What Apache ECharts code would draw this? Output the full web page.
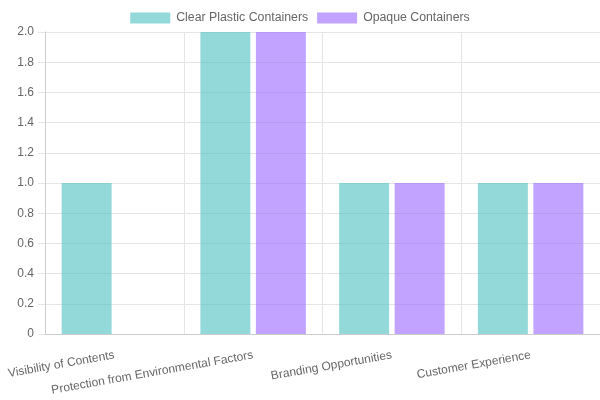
<!DOCTYPE html>
<html>
<head>
<meta charset="utf-8">
<script src="https://cdn.jsdelivr.net/npm/echarts@6/dist/echarts.min.js"></script>
<style>
    html, body { margin: 0; padding: 0; background: #fff; }
    #chart-bar-01 { width: 600px; height: 400px; }
</style>
</head>
<body>
<div id="chart-bar-01"></div>
<script>
// 数据
var categories = ['Visibility of Contents', 'Protection from Environmental Factors', 'Branding Opportunities', 'Customer Experience'];
var clearValues = [1, 2, 1, 1];
var opaqueValues = [0, 2, 1, 1];
var seriesNames = ['Clear Plastic Containers', 'Opaque Containers'];

var chartbar1 = echarts.init(document.getElementById('chart-bar-01'));

var option = {
    animation: false,
    textStyle: {
        fontFamily: 'Liberation Sans, Arial, sans-serif'
    },
    legend: {
        top: 7,
        left: 'center',
        icon: 'rect',
        itemWidth: 40,
        itemHeight: 11,
        itemGap: 9,
        textStyle: {
            color: '#666',
            fontSize: 12.3,
            padding: [0, 0, 0, 1]
        },
        data: seriesNames
    },
    grid: {
        left: 45,
        right: 0,
        top: 32,
        bottom: 66,
        containLabel: false,
        outerBoundsMode: 'none'
    },
    xAxis: {
        type: 'category',
        data: categories,
        axisLabel: {
            color: '#666',
            fontSize: 12,
            rotate: 10,
            margin: 21,
            interval: 0
        },
        axisLine: {
            lineStyle: {
                color: '#ccc'
            }
        },
        axisTick: {
            length: 8,
            lineStyle: {
                color: '#e5e5e5'
            }
        },
        splitLine: {
            show: true,
            lineStyle: {
                color: '#e5e5e5'
            }
        }
    },
    yAxis: {
        type: 'value',
        min: 0,
        max: 2,
        interval: 0.2,
        axisLabel: {
            color: '#666',
            fontSize: 12,
            margin: 11,
            formatter: function (v) {
                return v === 0 ? '0' : v.toFixed(1);
            }
        },
        axisLine: {
            show: true,
            lineStyle: {
                color: '#ccc'
            }
        },
        axisTick: {
            show: true,
            length: 7,
            lineStyle: {
                color: '#e5e5e5'
            }
        },
        splitLine: {
            lineStyle: {
                color: '#e5e5e5'
            }
        }
    },
    series: [{
        name: seriesNames[0],
        type: 'bar',
        data: clearValues,
        barWidth: 50,
        barGap: '11%',
        itemStyle: {
            color: 'rgba(75, 192, 192, 0.6)'
        }
    }, {
        name: seriesNames[1],
        type: 'bar',
        data: opaqueValues,
        barWidth: 50,
        barGap: '11%',
        itemStyle: {
            color: 'rgba(153, 102, 255, 0.6)'
        }
    }]
};

chartbar1.setOption(option);
</script>
</body>
</html>
